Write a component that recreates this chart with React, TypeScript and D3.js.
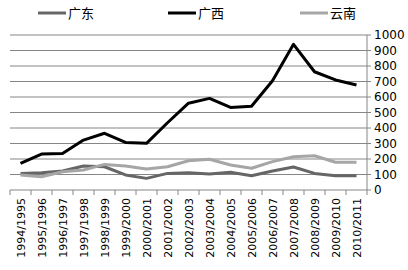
import React from "react";
import * as d3 from "d3";

const categories = ["1994/1995","1995/1996","1996/1997","1997/1998","1998/1999","1999/2000","2000/2001","2001/2002","2002/2003","2003/2004","2004/2005","2005/2006","2006/2007","2007/2008","2008/2009","2009/2010","2010/2011"];
const guangdong = [107,112,123,155,150,97,75,107,112,103,114,92,123,148,107,92,92];
const guangxi = [172,232,236,322,366,307,301,434,560,591,533,540,705,940,763,710,677];
const yunnan = [97,86,118,129,165,155,135,150,189,198,161,140,183,215,221,179,179];
const yTicks = [0,100,200,300,400,500,600,700,800,900,1000];
const seriesNames = ["广东","广西","云南"];
const seriesColors = ["#666666","#000000","#a6a6a6"];

export default function App() {
  const W = 408, H = 270;
  const left = 10, right = 367, top = 35, bottom = 190;
  const x = d3.scaleBand().domain(categories).range([left, right]);
  const y = d3.scaleLinear().domain([0, 1000]).range([bottom, top]);
  const line = d3.line<number>().x((_, i) => x(categories[i])! + x.bandwidth() / 2).y((d) => y(d));
  const series = [guangdong, guangxi, yunnan];
  const legendX = [38, 168, 300];
  const font = "'Noto Sans CJK SC', 'DejaVu Sans', sans-serif";
  return (
    <svg width={W} height={H} style={{ position: "absolute", left: 0, top: 0, background: "#fff" }} fontFamily={font}>
      {yTicks.map((t) => (
        <g key={t}>
          {t > 0 && <line x1={left} x2={right} y1={y(t)} y2={y(t)} stroke="#868686" strokeWidth={1} />}
          <line x1={right} x2={right + 4} y1={y(t)} y2={y(t)} stroke="#868686" />
          <text x={374} y={y(t)} dy="0.35em" fontSize={12} fill="#000" fontFamily="'DejaVu Sans', sans-serif">{t}</text>
        </g>
      ))}
      <line x1={right} x2={right} y1={top} y2={bottom} stroke="#868686" />
      <line x1={left} x2={right} y1={bottom} y2={bottom} stroke="#868686" />
      {d3.range(categories.length + 1).map((i) => {
        const xx = left + i * x.step();
        return <line key={i} x1={xx} x2={xx} y1={bottom} y2={bottom + 5} stroke="#868686" />;
      })}
      {categories.map((c) => {
        const cx = x(c)! + x.bandwidth() / 2;
        return (
          <text key={c} transform={`translate(${cx + 4},${bottom + 8}) rotate(-90)`} textAnchor="end" fontSize={11} fill="#000" fontFamily="'DejaVu Sans', sans-serif">{c}</text>
        );
      })}
      {series.map((s, i) => (
        <path key={i} d={line(s)!} fill="none" stroke={seriesColors[i]} strokeWidth={3} strokeLinejoin="round" />
      ))}
      {seriesNames.map((n, i) => (
        <g key={n}>
          <line x1={legendX[i]} x2={legendX[i] + 28} y1={13} y2={13} stroke={seriesColors[i]} strokeWidth={3} />
          <text x={legendX[i] + 30} y={13} dy="0.35em" fontSize={13} fill="#000">{n}</text>
        </g>
      ))}
    </svg>
  );
}
